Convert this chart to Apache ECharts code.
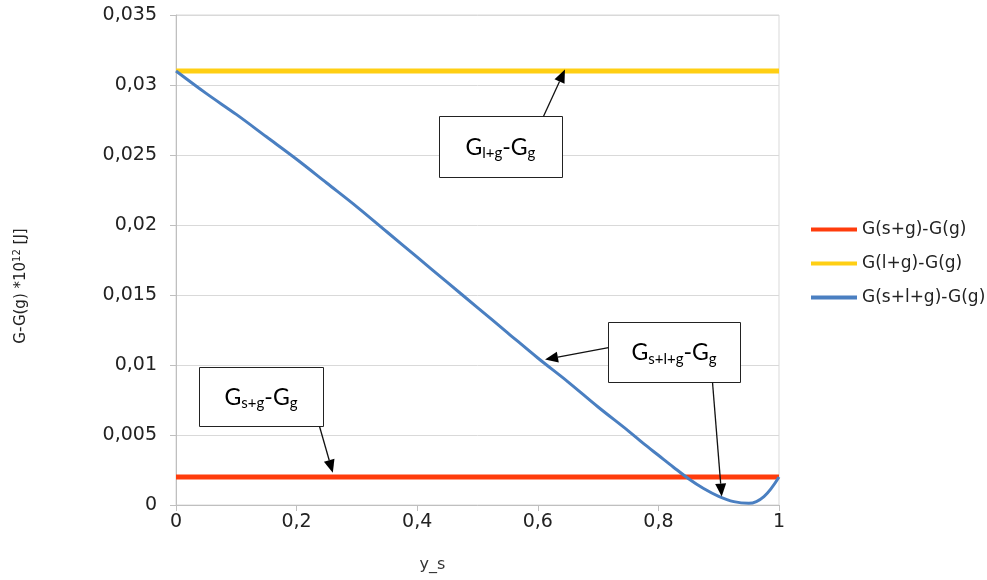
<!DOCTYPE html>
<html>
<head>
<meta charset="utf-8">
<script src="https://cdn.jsdelivr.net/npm/echarts@6/dist/echarts.min.js"></script>
<style>
  html, body { margin: 0; padding: 0; background: #ffffff; }
  #chart { width: 987px; height: 580px; }
</style>
</head>
<body>
<div id="chart"></div>
<script>
// Mole fraction of solid, y_s
const ysPoints = [0, 0.05, 0.1, 0.15, 0.2, 0.25, 0.3, 0.35, 0.4, 0.45, 0.5,
  0.55, 0.6, 0.65, 0.7, 0.75, 0.775, 0.8, 0.825, 0.85, 0.875, 0.9, 0.925, 0.95, 0.975, 1];
// G(s+l+g) - G(g), in 10^-12 J
const solidLiquidGas = [0.0310, 0.0294, 0.0279, 0.0263, 0.0247, 0.0230, 0.0213, 0.0195,
  0.0177, 0.0159, 0.0141, 0.0123, 0.0105, 0.0088, 0.0070, 0.0053, 0.0044, 0.00355,
  0.0027, 0.00188, 0.00118, 0.00062, 0.00024, 0.00012, 0.0006, 0.0020];
// constant levels over the whole y_s range
const levelSpan = [0, 1];
const solidGasLevel = [0.002, 0.002];
const liquidGasLevel = [0.031, 0.031];

const seriesNames = ['G(s+g)-G(g)', 'G(l+g)-G(g)', 'G(s+l+g)-G(g)'];
const seriesColors = ['#ff3c0c', '#ffcf14', '#4a7fc1'];

const pairUp = (xs, ys) => xs.map((x, i) => [x, ys[i]]);
const commaNumber = v => String(+v.toFixed(3)).replace('.', ',');

const chart = echarts.init(document.getElementById('chart'), null, { renderer: 'canvas' });

const axisGrey = '#bfbfbf';
const gridGrey = '#d9d9d9';
const labelFont = 'DejaVu Sans';

chart.setOption({
  animation: false,
  backgroundColor: '#ffffff',
  grid: {
    left: 176, right: 208, top: 15, bottom: 75,
    show: true, borderColor: gridGrey, borderWidth: 1
  },
  xAxis: {
    type: 'value', min: 0, max: 1, interval: 0.2,
    name: 'y_s', nameLocation: 'middle', nameGap: 52,
    nameTextStyle: { fontFamily: labelFont, fontSize: 16, color: '#333', padding: [0, 90, 0, 0] },
    axisLine: { show: true, lineStyle: { color: axisGrey, width: 1 } },
    axisTick: { show: true, length: 6, lineStyle: { color: axisGrey } },
    axisLabel: { formatter: commaNumber, fontFamily: labelFont, fontSize: 19, color: '#222', margin: 8 },
    splitLine: { show: false }
  },
  yAxis: {
    type: 'value', min: 0, max: 0.035, interval: 0.005,
    name: '{t|G-G(g) *10}{sup|12}{t| [J]}', nameLocation: 'middle', nameRotate: 90, nameGap: 146,
    nameTextStyle: {
      padding: [0, 52, 0, 0],
      rich: {
        t: { fontFamily: labelFont, fontSize: 15, color: '#222' },
        sup: { fontFamily: labelFont, fontSize: 10, color: '#222', padding: [0, 0, 8, 0] }
      }
    },
    axisLine: { show: true, lineStyle: { color: axisGrey, width: 1 } },
    axisTick: { show: true, length: 6, lineStyle: { color: axisGrey } },
    axisLabel: { formatter: commaNumber, fontFamily: labelFont, fontSize: 19, color: '#222', margin: 19 },
    splitLine: { show: true, lineStyle: { color: gridGrey, width: 1 } }
  },
  legend: {
    orient: 'vertical', left: 806, top: 216,
    itemWidth: 46, itemHeight: 14, itemGap: 17,
    icon: 'path://M0,5 L46,5 L46,9 L0,9 Z',
    textStyle: { fontFamily: labelFont, fontSize: 17, color: '#222' },
    data: seriesNames
  },
  series: [
    {
      name: seriesNames[0], type: 'line', data: pairUp(levelSpan, solidGasLevel),
      showSymbol: false, symbol: 'none', color: seriesColors[0],
      lineStyle: { width: 5, color: seriesColors[0] }, z: 2
    },
    {
      name: seriesNames[1], type: 'line', data: pairUp(levelSpan, liquidGasLevel),
      showSymbol: false, symbol: 'none', color: seriesColors[1],
      lineStyle: { width: 5, color: seriesColors[1] }, z: 2
    },
    {
      name: seriesNames[2], type: 'line', data: pairUp(ysPoints, solidLiquidGas),
      showSymbol: false, symbol: 'none', smooth: 0.35, color: seriesColors[2],
      lineStyle: { width: 3, color: seriesColors[2] }, z: 3
    }
  ]
});

// Callout boxes: centre given in data space, arrows start at a fraction of the box
// edge and end on a point in data space.
const calloutText = {
  g: { fontFamily: 'Lato', fontSize: 23, color: '#1b1b2b' },
  s: { fontFamily: 'Lato', fontSize: 15, color: '#1b1b2b', padding: [12, 0, 0, 0] }
};
const callouts = [
  { text: '{g|G}{s|l+g}{g|-G}{s|g}', center: [0.538, 0.02561], size: [123, 61],
    arrows: [{ from: [0.845, 0], to: [0.645, 0.0311] }] },
  { text: '{g|G}{s|s+l+g}{g|-G}{s|g}', center: [0.826, 0.01093], size: [132, 60],
    arrows: [{ from: [0, 0.42], to: [0.612, 0.0104] },
             { from: [0.788, 1], to: [0.905, 0.0006] }] },
  { text: '{g|G}{s|s+g}{g|-G}{s|g}', center: [0.141, 0.00775], size: [124, 59],
    arrows: [{ from: [0.968, 1], to: [0.26, 0.0023] }] }
];

function arrowGraphics(x0, y0, x1, y1) {
  const dx = x1 - x0, dy = y1 - y0;
  const len = Math.hypot(dx, dy);
  const ux = dx / len, uy = dy / len;
  const headLen = 13, headHalf = 5.5;
  const bx = x1 - ux * headLen, by = y1 - uy * headLen;
  return [
    { type: 'line', shape: { x1: x0, y1: y0, x2: bx, y2: by },
      style: { stroke: '#111', lineWidth: 1.3 }, z: 20 },
    { type: 'polygon',
      shape: { points: [[x1, y1], [bx - uy * headHalf, by + ux * headHalf], [bx + uy * headHalf, by - ux * headHalf]] },
      style: { fill: '#000' }, z: 21 }
  ];
}

const graphics = [];
callouts.forEach(c => {
  const [cx, cy] = chart.convertToPixel({ gridIndex: 0 }, c.center);
  const [w, h] = c.size;
  const left = Math.round(cx - w / 2) + 0.5, top = Math.round(cy - h / 2) + 0.5;
  graphics.push({
    type: 'rect', shape: { x: left, y: top, width: w, height: h },
    style: { fill: '#fff', stroke: '#222', lineWidth: 1 }, z: 19
  });
  graphics.push({
    type: 'text', x: cx, y: cy + 1, z: 22,
    style: { text: c.text, rich: calloutText, align: 'center', verticalAlign: 'middle' }
  });
  c.arrows.forEach(a => {
    const sx = left + a.from[0] * w, sy = top + a.from[1] * h;
    const [tx, ty] = chart.convertToPixel({ gridIndex: 0 }, a.to);
    graphics.push(...arrowGraphics(sx, sy, tx, ty));
  });
});
chart.setOption({ graphic: graphics });
</script>
</body>
</html>
